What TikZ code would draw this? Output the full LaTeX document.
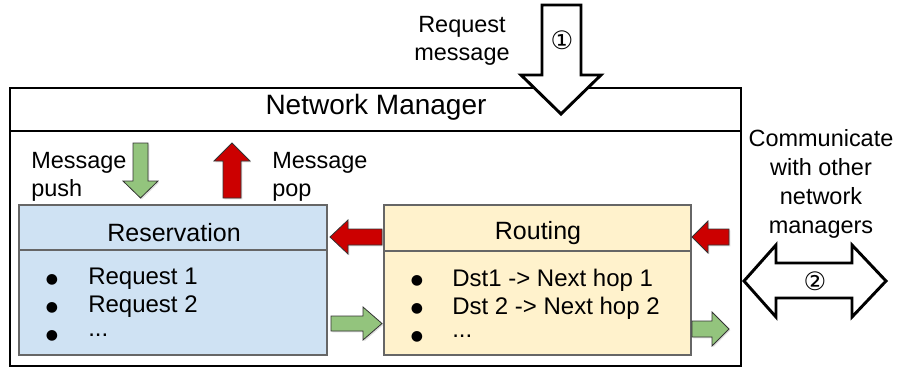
\documentclass[tikz,border=0pt]{standalone}
\usepackage{fontspec}
\setmainfont{Liberation Sans}
\newfontfamily\symfont{DejaVu Sans}
\usetikzlibrary{shadows}
\definecolor{resblue}{HTML}{CFE2F3}
\definecolor{routyel}{HTML}{FFF2CC}
\definecolor{boxgray}{HTML}{666666}
\definecolor{agreen}{HTML}{93C47D}
\definecolor{ared}{HTML}{CC0000}
\definecolor{aborder}{HTML}{333333}
\tikzset{
  lbl/.style={inner sep=0pt, font=\fontsize{17.6pt}{21pt}\selectfont},
  boxtitle/.style={inner sep=0pt, font=\fontsize{18.75pt}{22pt}\selectfont},
  item/.style={inner sep=0pt, anchor=west, font=\fontsize{18pt}{21pt}\selectfont},
  blt/.style={inner sep=0pt, font=\symfont\fontsize{10.5pt}{12pt}\selectfont},
  panel/.style={draw=boxgray, line width=0.8pt},
  garrow/.style={fill=agreen, draw=aborder, line width=0.6pt, drop shadow={opacity=0.25, shadow xshift=1pt, shadow yshift=-1pt}},
  rarrow/.style={fill=ared, draw=aborder, line width=0.6pt, drop shadow={opacity=0.25, shadow xshift=1pt, shadow yshift=-1pt}},
  warrow/.style={fill=white, draw=black, line width=2.2pt, line join=miter},
}
\begin{document}
\begin{tikzpicture}[x=0.75pt, y=-0.75pt]
\useasboundingbox (0,0) rectangle (897,372);
% outer Network Manager box
\draw[line width=2.2pt] (10,88) rectangle (741,366);
\draw[line width=1.6pt] (10,131) -- (741,131);
\node[inner sep=0pt, font=\fontsize{21pt}{24pt}\selectfont] (nm) at (376,107) {Network Manager};

% Reservation box
\draw[panel, fill=resblue] (19,205) rectangle (327,355);
\draw[panel] (19,250) -- (327,250);
\node[boxtitle] (res) at (174,233) {Reservation};
\node[blt] (rb1) at (52,280) {●};
\node[blt] (rb2) at (52,308) {●};
\node[blt] (rb3) at (52,336) {●};
\node[item] (r1) at (88,279) {Request 1};
\node[item] (r2) at (88,307) {Request 2};
\node[item] (r3) at (88,335) {...};

% Routing box
\draw[panel, fill=routyel] (384,205) rectangle (691,355);
\draw[panel] (384,251) -- (691,251);
\node[boxtitle] (rout) at (538,233) {Routing};
\node[blt] (tb1) at (417,281) {●};
\node[blt] (tb2) at (417,309) {●};
\node[blt] (tb3) at (417,337) {●};
\node[item] (t1) at (452,280) {Dst1 -> Next hop 1};
\node[item] (t2) at (452,308) {Dst 2 -> Next hop 2};
\node[item] (t3) at (452,336) {...};

% labels
\node[lbl, align=left, anchor=west] (push) at (31,177) {Message\\push};
\node[lbl, align=left, anchor=west] (pop) at (272,177) {Message\\pop};
\node[lbl, align=center] (req) at (462,41) {Request\\message};
\node[lbl, align=center, font=\fontsize{17.6pt}{21.8pt}\selectfont] (comm) at (821,184) {Communicate\\with other\\network\\managers};

% small block arrows
\draw[garrow] (133,143) -- (148,143) -- (148,181) -- (158,181) -- (140.5,198) -- (123,181) -- (133,181) -- cycle;
\draw[rarrow] (223,198) -- (241,198) -- (241,161) -- (250,161) -- (232,143) -- (214,161) -- (223,161) -- cycle;
\draw[rarrow] (382,229) -- (348,229) -- (348,220) -- (330,237) -- (348,254) -- (348,245) -- (382,245) -- cycle;
\draw[garrow] (331,316) -- (363,316) -- (363,307) -- (382,323.5) -- (363,340) -- (363,331) -- (331,331) -- cycle;
\draw[rarrow] (729,229) -- (708,229) -- (708,221) -- (692,237) -- (708,253) -- (708,245) -- (729,245) -- cycle;
\draw[garrow] (692,321) -- (712,321) -- (712,312) -- (729,329) -- (712,346) -- (712,337) -- (692,337) -- cycle;

% big white arrows
\draw[warrow] (542,5) -- (581,5) -- (581,75) -- (601,75) -- (561,114) -- (521,75) -- (542,75) -- cycle;
\node[inner sep=0pt, font=\symfont\fontsize{19pt}{22pt}\selectfont] (c1) at (562,40) {①};
\draw[warrow] (744,281) -- (776,245) -- (776,263) -- (852,263) -- (852,245) -- (886,281) -- (852,317) -- (852,298) -- (776,298) -- (776,317) -- cycle;
\node[inner sep=0pt, font=\symfont\fontsize{19pt}{22pt}\selectfont] (c2) at (815,281) {②};
\end{tikzpicture}
\end{document}
